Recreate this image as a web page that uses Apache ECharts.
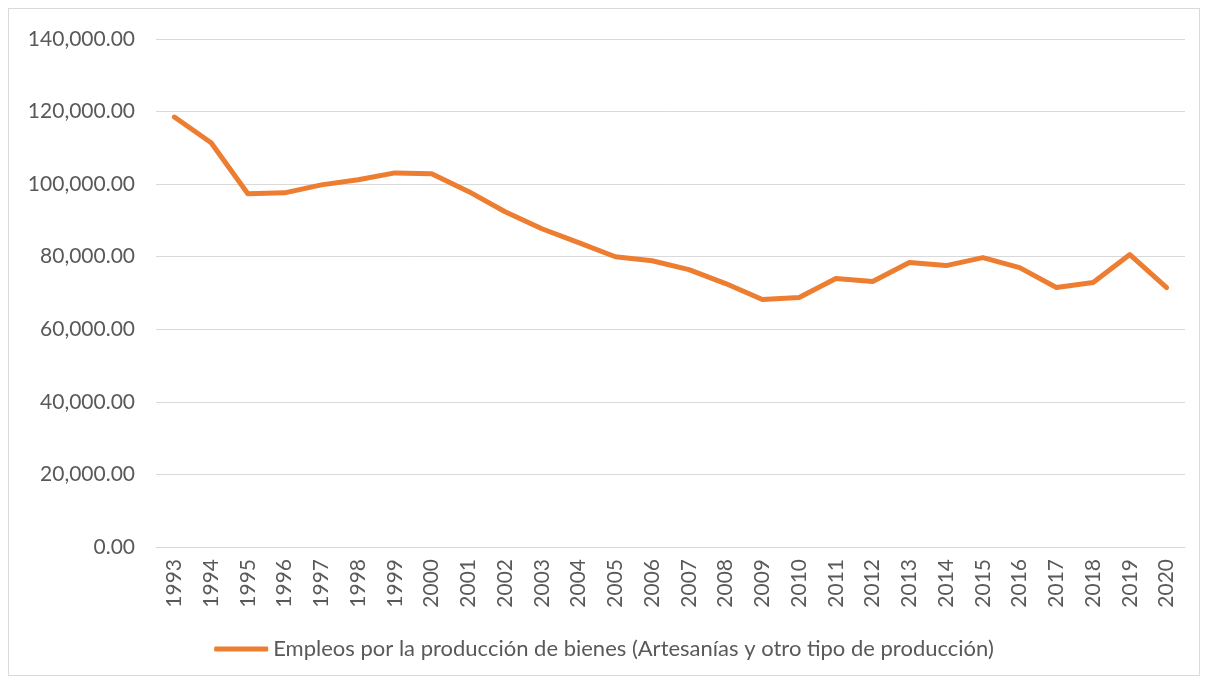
<!DOCTYPE html>
<html>
<head>
<meta charset="utf-8">
<script src="https://cdn.jsdelivr.net/npm/echarts@6/dist/echarts.min.js"></script>
<style>
  html, body { margin: 0; padding: 0; background: #fff; }
  #chart {
    position: absolute;
    left: 8px; top: 8px;
    width: 1192px; height: 668px;
    border: 1px solid #d9d9d9;
    box-sizing: border-box;
  }
</style>
</head>
<body>
<div id="chart"></div>
<script>
const years = ['1993', '1994', '1995', '1996', '1997', '1998', '1999', '2000', '2001', '2002',
  '2003', '2004', '2005', '2006', '2007', '2008', '2009', '2010', '2011', '2012',
  '2013', '2014', '2015', '2016', '2017', '2018', '2019', '2020']
const empleos = [118500, 111400, 97350, 97600, 99800, 101200, 103100, 102850, 98000, 92400,
  87700, 83900, 80000, 78900, 76450, 72600, 68200, 68750, 74000, 73150,
  78400, 77550, 79750, 77000, 71500, 72900, 80600, 71500]
const seriesName = 'Empleos por la producción de bienes (Artesanías y otro tipo de producción)'

const chart = echarts.init(document.getElementById('chart'))
const font = 'Lato, "Open Sans", sans-serif'

chart.setOption({
  animation: false,
  textStyle: { fontFamily: font },
  grid: {
    left: 147,
    right: 14,
    top: 30,
    bottom: 128
  },
  legend: {
    bottom: 10,
    left: 'center',
    data: [{ name: seriesName, icon: 'roundRect' }],
    itemWidth: 54,
    itemHeight: 5,
    itemGap: 6,
    textStyle: {
      fontSize: 22,
      color: '#595959',
      fontFamily: font
    }
  },
  xAxis: {
    type: 'category',
    data: years,
    boundaryGap: true,
    axisLine: { lineStyle: { color: '#d9d9d9', width: 1 } },
    axisTick: { show: false },
    axisLabel: {
      rotate: 90,
      fontSize: 21,
      color: '#595959',
      margin: 12,
      interval: 0
    }
  },
  yAxis: {
    type: 'value',
    min: 0,
    max: 140000,
    interval: 20000,
    axisLine: { show: false },
    axisTick: { show: false },
    splitLine: { lineStyle: { color: '#d9d9d9', width: 1 } },
    axisLabel: {
      fontSize: 21,
      color: '#595959',
      margin: 21,
      formatter: function (v) {
        return v.toLocaleString('en-US', { minimumFractionDigits: 2, maximumFractionDigits: 2 })
      }
    }
  },
  series: [{
    name: seriesName,
    type: 'line',
    data: empleos,
    showSymbol: false,
    symbol: 'none',
    lineStyle: { color: '#ED7D31', width: 5, cap: 'round', join: 'round' },
    itemStyle: { color: '#ED7D31' }
  }]
})
</script>
</body>
</html>
